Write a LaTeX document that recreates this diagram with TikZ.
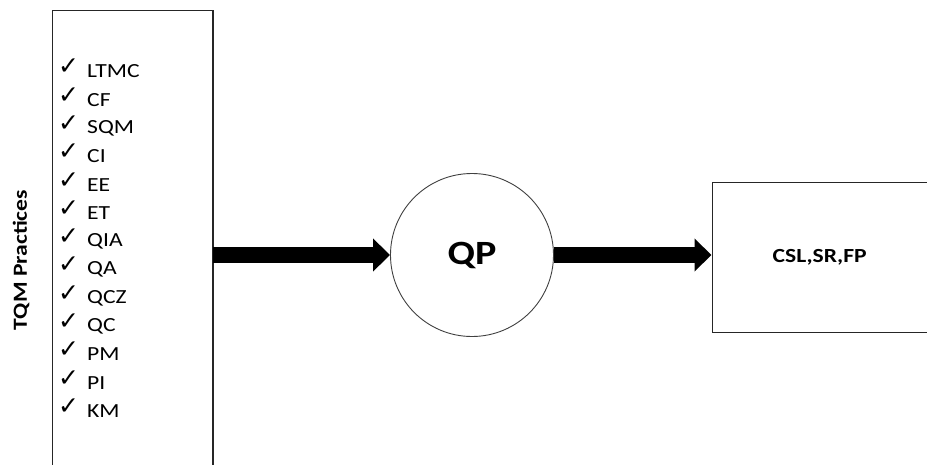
\documentclass[tikz,border=0pt]{standalone}
\usepackage{fontspec}
\setmainfont{Carlito}[FakeStretch=1.18]
\newfontfamily\symfont{DejaVu Sans}
\usetikzlibrary{arrows.meta}
\begin{document}
\begin{tikzpicture}[x=1pt,y=-1pt,
  frame/.style={draw=black!85,line width=1.3pt},
  item/.style={anchor=west,inner sep=0pt,font=\fontsize{20}{20}\selectfont},
  tick/.style={anchor=west,inner sep=0pt,font=\symfont\fontsize{25}{25}\selectfont},
  bigarrow/.style={line width=16pt,-{Triangle[length=17pt,width=32pt]}}]
\useasboundingbox (0,0) rectangle (927,464);
\clip (0,0) rectangle (927,464);
% input box with the list of practices
\draw[frame] (52.5,480) -- (52.5,10.5) -- (213,10.5) -- (213,480);
\node[coordinate] (inR) at (213,255) {};
% rotated caption
\node[rotate=90,inner sep=0pt,font=\bfseries\fontsize{20}{20}\selectfont] (cap) at (21,260) {TQM Practices};
% checklist
\foreach \t [count=\i from 0] in {LTMC,CF,SQM,CI,EE,ET,QIA,QA,QCZ,QC,PM,PI,KM}{
  \node[tick] (t\i) at (58,{67+28.3*\i}) {✓};
  \node[item] (l\i) at (87,{71.5+28.3*\i}) {\t};
}
% central process
\node[circle,draw=black!75,line width=0.9pt,minimum size=163pt,inner sep=0pt,
  font=\bfseries\fontsize{34}{34}\selectfont] (qp) at (472,255) {QP};
% output box
\node[frame,minimum width=215pt,minimum height=150pt,inner sep=0pt,anchor=north west,
  font=\bfseries\fontsize{20}{20}\selectfont] (out) at (711.5,181.5) {CSL,SR,FP};
% flow arrows
\draw[bigarrow] (inR) -- (qp.west);
\draw[bigarrow] (qp.east) -- (qp.east -| out.west);
\end{tikzpicture}
\end{document}
